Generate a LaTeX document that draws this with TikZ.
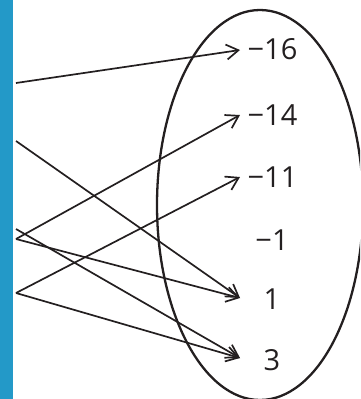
\documentclass[tikz,border=0pt]{standalone}
\usepackage{fontspec}
\setmainfont{Open Sans}
\usetikzlibrary{arrows.meta,shapes.geometric}
\definecolor{barblue}{RGB}{35,153,200}
\definecolor{ink}{RGB}{35,31,32}
\begin{document}
\begin{tikzpicture}[x=1pt,y=-1pt,
  conn/.style={draw=ink,line width=1.7pt,-{Straight Barb[length=12pt,width=15pt,line width=1.7pt]}},
  val/.style={text=ink,font=\fontsize{29}{34}\selectfont,inner sep=0pt}]
\useasboundingbox (0,0) rectangle (360,399);
\clip (0,0) rectangle (360,399);
\fill[barblue] (0,0) rectangle (13,399);
\node[draw=ink,line width=2.3pt,ellipse,minimum width=206pt,minimum height=390pt,inner sep=0pt] (set) at (260,205) {};
% labels
\node[val] (n16) at (272.5,49) {−16};
\node[val] (n14) at (272.5,115) {−14};
\node[val] (n11) at (272.5,177) {−11};
\node[val] (n1m) at (272,240) {−1};
\node[val] (p1) at (272,299) {1};
\node[val] (p3) at (272,360) {3};
% arrow tips
\coordinate (t16) at (240,50);
\coordinate (t14) at (240,115);
\coordinate (t11) at (240,177);
\coordinate (tp1) at (240,298);
\coordinate (tp3) at (240,358);
% starts
\coordinate (a) at (16,83);
\coordinate (b) at (16,141);
\coordinate (c1) at (16,229);
\coordinate (c2) at (16,239);
\coordinate (d) at (16,293);
\draw[conn] (a) -- (t16);
\draw[conn] (b) -- (tp1);
\draw[conn] (c2) -- (t14);
\draw[conn] (c1) -- (tp3);
\draw[conn] (c2) -- (tp1);
\draw[conn] (d) -- (t11);
\draw[conn] (d) -- (tp3);
\end{tikzpicture}
\end{document}
